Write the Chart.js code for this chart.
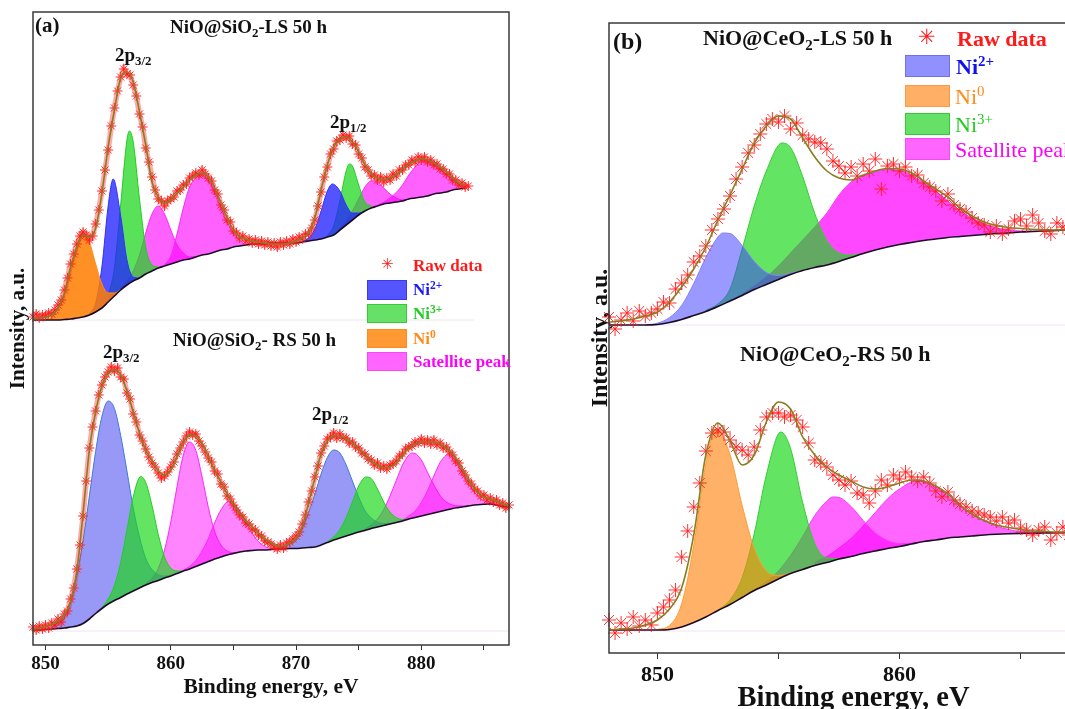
<!DOCTYPE html>
<html>
<head>
<meta charset="utf-8">
<script src="https://cdn.jsdelivr.net/npm/chart.js@4.4.1/dist/chart.umd.min.js"></script>
<style>
html, body { margin: 0; padding: 0; background: #fff; overflow: hidden; }
body { width: 1065px; height: 709px; position: relative; font-family: "Liberation Serif", serif; }
canvas { position: absolute; }
#graficoA { left: 0; top: 0; }
#graficoB { left: 580px; top: 0; }
.txt { position: absolute; white-space: nowrap; font-weight: bold; color: #111; line-height: 1; }
.txt sub { font-size: 0.68em; vertical-align: -0.32em; line-height: 0; }
.txt sup { font-size: 0.68em; vertical-align: 0.55em; line-height: 0; }
.normal { font-weight: normal; }
.amostra { position: absolute; box-sizing: border-box; border: 1px solid; }
.estrela { position: absolute; color: #ff1a1a; font-family: "DejaVu Sans", sans-serif; line-height: 1; }
</style>
</head>
<body>
<canvas id="graficoA" width="530" height="709"></canvas>
<canvas id="graficoB" width="580" height="740"></canvas>

<!-- textos do painel (a) -->
<div class="txt" style="left:35px;top:15px;font-size:21px;">(a)</div>
<div class="txt" style="left:170px;top:17px;font-size:19px;">NiO@SiO<sub>2</sub>-LS 50 h</div>
<div class="txt" style="left:115px;top:45px;font-size:19px;">2p<sub>3/2</sub></div>
<div class="txt" style="left:330px;top:112px;font-size:19px;">2p<sub>1/2</sub></div>
<div class="txt" style="left:173px;top:330px;font-size:19px;">NiO@SiO<sub>2</sub>- RS 50 h</div>
<div class="txt" style="left:103px;top:342px;font-size:19px;">2p<sub>3/2</sub></div>
<div class="txt" style="left:312px;top:404px;font-size:19px;">2p<sub>1/2</sub></div>

<!-- legenda do painel (a) -->
<div class="estrela" style="left:381px;top:257px;font-size:15px;">✳</div>
<div class="txt" style="left:413px;top:257px;font-size:17px;color:#ff1a1a;">Raw data</div>
<div class="amostra" style="left:367px;top:280px;width:40px;height:20px;background:#5555ff;border-color:#3a3aee;"></div>
<div class="txt" style="left:413px;top:281px;font-size:17px;color:#1a1aff;">Ni<sup>2+</sup></div>
<div class="amostra" style="left:367px;top:304px;width:40px;height:19px;background:#66e066;border-color:#33cc33;"></div>
<div class="txt" style="left:413px;top:305px;font-size:17px;color:#22cc22;">Ni<sup>3+</sup></div>
<div class="amostra" style="left:367px;top:329px;width:40px;height:19px;background:#ff9933;border-color:#ff8c1a;"></div>
<div class="txt" style="left:413px;top:330px;font-size:17px;color:#ff8c1a;">Ni<sup>0</sup></div>
<div class="amostra" style="left:367px;top:352px;width:40px;height:19px;background:#ff66ff;border-color:#ff44ff;"></div>
<div class="txt" style="left:413px;top:353px;font-size:17px;color:#ff00ff;">Satellite peak</div>

<!-- textos do painel (b) -->
<div class="txt" style="left:613px;top:29px;font-size:24px;">(b)</div>
<div class="txt" style="left:703px;top:27px;font-size:22px;">NiO@CeO<sub>2</sub>-LS 50 h</div>
<div class="txt" style="left:740px;top:343px;font-size:22px;">NiO@CeO<sub>2</sub>-RS 50 h</div>

<!-- legenda do painel (b) -->
<div class="estrela" style="left:918px;top:27px;font-size:21px;">✳</div>
<div class="txt" style="left:957px;top:28px;font-size:22px;color:#ff1a1a;">Raw data</div>
<div class="amostra" style="left:905px;top:55px;width:45px;height:22px;background:#9090ff;border-color:#7070f0;"></div>
<div class="txt" style="left:956px;top:56px;font-size:22px;color:#1010ee;">Ni<sup>2+</sup></div>
<div class="amostra" style="left:905px;top:85px;width:45px;height:22px;background:#ffb066;border-color:#ff9a40;"></div>
<div class="txt normal" style="left:955px;top:86px;font-size:22px;color:#ff8c1a;">Ni<sup>0</sup></div>
<div class="amostra" style="left:905px;top:113px;width:45px;height:22px;background:#66e066;border-color:#33cc33;"></div>
<div class="txt normal" style="left:955px;top:114px;font-size:22px;color:#22cc22;">Ni<sup>3+</sup></div>
<div class="amostra" style="left:905px;top:138px;width:45px;height:22px;background:#ff66ff;border-color:#ff44ff;"></div>
<div class="txt normal" style="left:955px;top:139px;font-size:22px;color:#ff00ff;">Satellite peak</div>

<script>
// =========================================================
// 1. DADOS
// =========================================================
// Energia de ligação em eV, intensidade em unidades arbitrárias.
// Cada espectro guarda valores relativos à sua própria linha de base;
// o deslocamento vertical (empilhamento) fica numa constante separada.
const passoBruto = 0.25; // espaçamento dos pontos experimentais (asteriscos)
const passoCurva = 0.5;  // espaçamento da curva ajustada e do fundo

// ---------- Painel (a): NiO@SiO2 ----------
const inicioA = 849;
const deslocLS_A = 32.5;
const deslocRS_A = 1.4;

// LS 50 h, pontos experimentais (uma linha por eV, de 849 a 883.75)
const brutoLS_A = [
  0.3, 0.6, 0.2, 0.5,   0.4, 0.7, 0.6, 1.0,   1.5, 2.0, 3.0, 4.2,
  5.6, 6.6, 7.6, 8.4,   8.8, 8.5, 8.0, 8.4,   9.6, 11.0, 12.9, 15.0,
  17.0, 19.4, 21.2, 22.9,   24.3, 25.1, 24.6, 24.5,   23.5, 22.4, 20.6, 19.3,
  17.2, 15.8, 14.3, 13.0,   12.1, 11.9, 11.4, 11.9,   12.1, 12.3, 12.9, 13.0,
  13.5, 13.6, 14.2, 14.4,   14.7, 14.5, 15.0, 14.6,   14.2, 13.9, 13.0, 12.6,
  11.5, 11.0, 10.0, 9.8,   8.9, 8.7, 8.2, 8.4,   7.9, 8.1, 7.7, 8.0,
  7.6, 7.9, 7.5, 7.8,   7.4, 7.7, 7.3, 7.8,   7.5, 7.9, 7.6, 8.1,
  7.8, 8.3, 8.1, 8.6,   8.6, 9.2, 10.0, 11.4,   12.8, 14.3, 15.3, 16.6,
  17.1, 17.9, 18.0, 18.5,   18.2, 18.4, 17.6, 17.5,   16.6, 16.2, 15.3, 15.0,
  14.4, 14.5, 14.0, 14.3,   13.8, 14.2, 14.0, 14.6,   14.4, 15.0, 15.0, 15.5,
  15.5, 16.0, 15.8, 16.3,   16.0, 16.3, 15.8, 16.0,   15.5, 15.6, 15.1, 15.1,
  14.6, 14.6, 14.0, 14.0,   13.5, 13.7, 13.3, 13.4
];
// LS 50 h, envoltória do ajuste (849 a 883.5, passo 0.5)
const ajusteLS_A = [
  0.1, 0.2,  0.3, 0.5,  1.2, 2.7,  5.3, 7.3,  8.5, 8.3,  9.2, 12.7,
  17.3, 21.0,  24.2, 24.8,  23.8, 20.8,  17.5, 13.8,  12.3, 11.7,  12.0, 12.7,
  13.3, 14.0,  14.5, 14.7,  14.3, 13.2,  11.7, 10.2,  9.0, 8.3,  8.1, 7.9,
  7.8, 7.7,  7.6, 7.6,  7.6, 7.7,  7.9, 8.2,  8.7, 10.2,  13.0, 15.5,
  17.3, 18.1,  18.3, 17.8,  16.8, 15.5,  14.6, 14.2,  14.0, 14.2,  14.5, 15.1,
  15.6, 15.9,  16.1, 16.0,  15.7, 15.3,  14.8, 14.2,  13.7, 13.5
];
// LS 50 h, fundo (Shirley)
const fundoLS_A = [
  0, 0,  0, 0,  0, 0.05,  0.1, 0.2,  0.3, 0.5,  0.8, 1.2,
  1.8, 2.4,  3.0, 3.5,  3.9, 4.2,  4.6, 4.9,  5.2, 5.4,  5.6, 5.8,
  6.0, 6.1,  6.3, 6.5,  6.6, 6.8,  7.0, 7.1,  7.3, 7.4,  7.5, 7.6,
  7.6, 7.6,  7.7, 7.7,  7.7, 7.7,  7.7, 7.8,  7.9, 8.0,  8.1, 8.3,
  8.5, 9.0,  9.5, 10.0,  10.5, 10.9,  11.2, 11.4,  11.6, 11.7,  11.8, 11.9,
  12.1, 12.2,  12.3, 12.4,  12.6, 12.7,  12.8, 13.0,  13.1, 13.2
];
// LS 50 h, componentes [energia, topo da área]
const ni0LS_A = [[850, 0.05], [850.5, 0.3], [851, 0.9], [851.5, 2.45], [852, 4.9], [852.5, 7.5], [853, 8.7], [853.5, 7.8], [854, 5.6], [854.5, 3.6], [855, 2.7], [855.5, 2.7], [856, 3.05]];
const ni2LS1_A = [[853.5, 0.6], [854, 1.7], [854.5, 5.3], [855, 11.4], [855.4, 14.1], [856, 10.4], [856.5, 6.0], [857, 4.3], [857.5, 4.2]];
const ni3LS1_A = [[855, 2.3], [855.5, 5.2], [856, 11.5], [856.5, 18.0], [856.7, 18.9], [857, 17.8], [857.5, 12.1], [858, 7.3], [858.5, 5.5], [859, 5.3]];
const sat1LS_A = [[856, 3.1], [856.5, 3.85], [857, 4.9], [857.5, 6.5], [858, 8.7], [858.5, 10.6], [859, 11.4], [859.5, 10.6], [860, 9.0], [860.5, 7.5], [861, 6.7], [861.5, 6.3], [862, 6.35]];
const sat2LS_A = [[859.5, 5.5], [860, 6.4], [860.5, 8.6], [861, 11.2], [861.5, 13.3], [862, 14.2], [862.4, 14.5], [863, 14.0], [863.5, 12.9], [864, 11.3], [864.5, 9.8], [865, 8.7], [865.5, 8.0], [866, 7.6], [866.5, 7.6]];
const ni2LS2_A = [[870.5, 7.86], [871, 8.2], [871.5, 9.1], [872, 10.9], [872.5, 12.9], [872.9, 13.6], [873.5, 12.9], [874, 11.5], [874.5, 10.7], [875, 10.7], [875.5, 10.9]];
const ni3LS2_A = [[872.5, 8.45], [873, 9.4], [873.5, 11.9], [874, 14.9], [874.26, 15.6], [874.5, 15.4], [875, 13.5], [875.5, 11.8], [876, 11.4]];
const sat3LS_A = [[873.5, 9.1], [874, 9.9], [874.5, 10.9], [875, 12.1], [875.5, 13.3], [876, 13.9], [876.5, 13.8], [877, 13.2], [877.5, 12.6], [878, 12.2], [878.5, 12.0], [879, 12.1]];
const sat4LS_A = [[876.5, 11.5], [877, 11.8], [877.5, 12.2], [878, 12.75], [878.5, 13.5], [879, 14.5], [879.5, 15.3], [880, 15.9], [880.3, 16.0], [881, 15.8], [881.5, 15.2], [882, 14.55], [882.5, 14.1], [883, 13.7], [883.5, 13.5], [883.75, 13.5]];

// RS 50 h, pontos experimentais (849 a 887)
const brutoRS_A = [
  0.4, 0.1, 0.5, 0.2,   0.6, 0.3, 0.8, 0.6,   1.2, 0.9, 1.7, 2.0,
  3.2, 4.3, 6.2, 8.6,   11.5, 15.0, 18.3, 20.4,   22.0, 23.6, 24.6, 25.4,
  25.9, 26.4, 26.0, 26.3,   25.4, 25.2, 23.8, 23.2,   21.7, 20.9, 19.6, 19.0,
  18.2, 17.4, 16.8, 16.4,   15.8, 15.3, 15.5, 15.9,   16.4, 16.9, 17.7, 18.3,
  18.9, 19.5, 19.9, 19.6,   19.7, 19.0, 18.5, 17.9,   17.3, 16.9, 16.0, 15.7,
  14.7, 14.4, 13.5, 13.2,   12.6, 12.1, 11.6, 11.4,   10.8, 10.7, 10.2, 10.1,
  9.6, 9.5, 9.0, 8.9,   8.7, 8.4, 8.2, 8.6,   8.3, 8.8, 8.9, 9.2,
  9.5, 9.9, 10.7, 11.6,   12.9, 14.0, 15.4, 16.5,   17.8, 18.5, 19.2, 19.4,
  19.8, 19.3, 19.7, 19.3,   19.3, 18.8, 18.9, 18.4,   18.3, 17.8, 17.7, 17.2,
  17.1, 16.6, 16.8, 16.3,   16.5, 16.2, 16.6, 16.7,   17.0, 17.5, 17.7, 18.2,
  18.4, 18.5, 18.9, 18.8,   19.2, 18.8, 19.1, 18.7,   19.1, 18.6, 18.8, 18.3,
  18.4, 17.9, 17.6, 17.0,   16.8, 16.0, 15.6, 15.0,   14.7, 14.2, 14.0, 13.5,
  13.6, 13.1, 13.3, 12.9,   13.1, 12.6, 12.8, 12.3,   12.6
];
const ajusteRS_A = [
  0.2, 0.3,  0.45, 0.7,  1.0, 1.6,  3.0, 6.0,  11.8, 18.1,  21.9, 24.5,
  25.8, 26.1,  25.6, 24.0,  21.9, 19.8,  18.1, 17.0,  16.0, 15.6,  16.1, 17.5,
  18.9, 19.6,  19.5, 18.7,  17.4, 16.1,  14.9, 13.7,  12.7, 11.8,  11.0, 10.4,
  9.8, 9.2,  8.8, 8.5,  8.5, 8.8,  9.3, 10.5,  12.8, 15.3,  17.7, 19.0,
  19.5, 19.5,  19.2, 18.8,  18.2, 17.6,  17.0, 16.6,  16.3, 16.4,  16.8, 17.6,
  18.3, 18.7,  18.9, 18.9,  18.9, 18.7,  18.3, 17.7,  16.8, 15.7,  14.7, 13.9,
  13.4, 13.2,  13.0, 12.7,  12.5
];
const fundoRS_A = [
  0.1, 0.1,  0.15, 0.2,  0.25, 0.3,  0.4, 0.5,  0.75, 1.2,  1.75, 2.25,
  2.7, 3.05,  3.35, 3.7,  4.0, 4.3,  4.6, 4.85,  5.05, 5.3,  5.5, 5.75,
  6.0, 6.2,  6.45, 6.7,  6.95, 7.2,  7.4, 7.6,  7.75, 7.9,  8.0, 8.05,
  8.1, 8.1,  8.15, 8.2,  8.2, 8.25,  8.25, 8.3,  8.35, 8.4,  8.6, 8.85,
  9.1, 9.3,  9.5, 9.7,  9.9, 10.05,  10.25, 10.4,  10.55, 10.7,  10.85, 11.0,
  11.2, 11.35,  11.5, 11.65,  11.8, 11.95,  12.1, 12.25,  12.35, 12.45,  12.55, 12.62,
  12.67, 12.7,  12.6, 12.45,  12.4
];
const ni2RS1_A = [[850.5, 0.4], [851, 0.85], [851.5, 1.4], [852, 2.8], [852.5, 5.6], [853, 9.05], [853.5, 13.5], [854, 17.95], [854.5, 21.45], [855, 23.0], [855.5, 22.25], [856, 19.55], [856.5, 16.0], [857, 12.3], [857.5, 9.4], [858, 7.25], [858.5, 6.15], [859, 5.65], [859.5, 5.5], [860, 5.6]];
const ni3RS1_A = [[854.5, 2.35], [855, 3.2], [855.5, 4.55], [856, 6.85], [856.5, 10.1], [857, 13.4], [857.6, 15.45], [858, 14.85], [858.5, 12.55], [859, 9.65], [859.5, 7.4], [860, 6.3], [860.5, 6.0], [861, 6.0]];
const sat1RS_A = [[858, 4.7], [858.5, 5.25], [859, 6.25], [859.5, 8.1], [860, 10.9], [860.5, 14.45], [861, 17.6], [861.5, 18.9], [862, 18.05], [862.5, 15.4], [863, 12.35], [863.5, 9.95], [864, 8.6], [864.5, 8.0], [865, 7.85], [865.5, 7.9]];
const sat2RS_A = [[861, 6.1], [861.5, 6.45], [862, 7.05], [862.5, 8.0], [863, 9.25], [863.5, 10.8], [864, 12.1], [864.6, 12.95], [865, 12.75], [865.5, 12.0], [866, 10.8], [866.5, 9.75], [867, 8.95], [867.5, 8.45], [868, 8.25], [868.5, 8.2]];
const ni2RS2_A = [[868.5, 8.27], [869, 8.4], [869.5, 8.75], [870, 9.3], [870.5, 10.3], [871, 11.85], [871.5, 13.7], [872, 15.7], [872.5, 17.35], [873, 18.1], [873.5, 17.8], [874, 16.6], [874.5, 15.0], [875, 13.4], [875.5, 12.05], [876, 11.3], [876.5, 10.9], [877, 10.75], [877.5, 10.77]];
const ni3RS2_A = [[872.5, 8.95], [873, 9.4], [873.5, 10.15], [874, 11.35], [874.5, 12.9], [875, 14.5], [875.6, 15.4], [876, 15.25], [876.5, 14.2], [877, 12.9], [877.5, 11.9], [878, 11.35], [878.5, 11.15], [879, 11.2]];
const sat3RS_A = [[875, 9.95], [875.5, 10.2], [876, 10.6], [876.5, 11.2], [877, 12.15], [877.5, 13.5], [878, 15.05], [878.5, 16.6], [879, 17.6], [879.25, 17.8], [879.5, 17.75], [880, 17.1], [880.5, 15.85], [881, 14.6], [881.5, 13.55], [882, 12.9], [882.5, 12.6], [883, 12.5], [883.5, 12.5]];
const sat4RS_A = [[878, 10.9], [878.5, 11.1], [879, 11.5], [879.5, 12.0], [880, 12.85], [880.5, 14.05], [881, 15.5], [881.5, 16.85], [882, 17.6], [882.2, 17.75], [882.5, 17.5], [883, 16.6], [883.5, 15.4], [884, 14.3], [884.5, 13.5], [885, 13.0], [885.5, 12.85], [886, 12.65], [886.5, 12.45]];

// ---------- Painel (b): NiO@CeO2 ----------
const inicioB = 848;
const deslocLS_B = 32.8;
const deslocRS_B = 2.2;

// LS 50 h (848 a 868)
const brutoLS_B = [
  0.8, -0.4, 0.5, 1.2,   0.4, 1.4, 0.9, 1.2,   1.6, 2.3, 2.2, 3.6,
  4.2, 5.0, 6.3, 6.9,   7.9, 9.5, 10.6, 11.6,   12.9, 14.6, 15.8, 17.2,
  18.0, 19.1, 20.1, 20.6,   20.3, 20.9, 19.6, 20.2,   19.0, 18.6, 18.3, 18.2,
  17.6, 16.4, 15.9, 15.2,   15.8, 14.9, 16.1, 15.4,   16.6, 13.6, 15.9, 16.1,
  15.4, 15.8, 14.9, 15.0,   14.2, 13.8, 13.4, 12.4,   13.1, 12.0, 11.6, 11.3,
  10.7, 10.2, 10.0, 9.3,   9.9, 9.1, 9.6, 10.4,   10.6, 9.9, 11.0, 10.2,
  9.4, 9.1, 10.2, 9.8,   9.5, 9.3, 9.9, 9.6,   9.7
];
const ajusteLS_B = [
  0.3, 0.4,  0.6, 0.9,  1.3, 2.3,  3.8, 5.6,  7.8, 10.5,  13.0, 15.6,
  18.2, 19.9,  20.9, 20.6,  18.7, 16.8,  15.4, 14.7,  14.5, 15.0,  15.4, 15.65,
  15.6, 15.2,  14.4, 13.6,  12.8, 11.7,  10.9, 10.3,  9.95, 9.75,  9.65, 9.57,
  9.53, 9.5,  9.5, 9.52,  9.55
];
const fundoLS_B = [
  0, 0,  0, 0,  0.05, 0.25,  0.55, 0.95,  1.35, 1.85,  2.4, 2.95,
  3.55, 4.05,  4.55, 5.05,  5.45, 5.75,  6.0, 6.35,  6.75, 7.15,  7.5, 7.8,
  8.05, 8.25,  8.45, 8.6,  8.75, 8.85,  8.95, 9.05,  9.15, 9.2,  9.3, 9.35,
  9.4, 9.45,  9.5, 9.52,  9.55
];
const ni2LS_B = [[849.5, 0], [850, 0.18], [850.5, 0.75], [851, 1.95], [851.5, 4.15], [852, 6.75], [852.5, 8.8], [852.7, 9.2], [853, 9.15], [853.5, 7.95], [854, 6.35], [854.5, 5.25], [855, 4.95], [855.5, 5.15], [856, 5.45]];
const ni3LS_B = [[852, 1.45], [852.5, 2.1], [853, 3.6], [853.5, 7.6], [854, 11.9], [854.5, 15.4], [855.15, 18.2], [855.5, 17.75], [856, 14.85], [856.5, 11.15], [857, 8.45], [857.5, 7.2], [858, 7.0], [858.5, 7.15]];
const satLS_B = [[853, 2.45], [853.5, 3.1], [854, 3.9], [854.5, 4.8], [855, 5.9], [855.5, 7.2], [856, 8.5], [856.5, 9.8], [857, 11.2], [857.5, 13.0], [858, 14.3], [858.5, 14.9], [859, 15.3], [859.5, 15.55], [860, 15.45], [860.5, 15.0], [861, 14.2], [861.5, 13.4], [862, 12.4], [862.5, 11.4], [863, 10.7], [863.5, 10.1], [864, 9.7], [864.5, 9.5], [865, 9.4], [865.5, 9.38], [866, 9.42], [866.5, 9.46], [867, 9.5], [868, 9.55]];

// RS 50 h (848 a 868)
const brutoRS_B = [
  1.1, -0.2, 0.8, 0.2,   1.4, 0.5, 1.1, 0.6,   1.8, 2.4, 3.1, 4.1,
  7.4, 10.0, 12.4, 14.8,   18.0, 19.8, 20.1, 19.9,   19.1, 18.4, 18.1, 17.6,
  18.4, 20.1, 21.4, 21.8,   21.8, 21.4, 21.6, 21.1,   20.4, 18.8, 17.1, 16.8,
  16.4, 15.6, 15.1, 14.6,   15.0, 13.8, 13.6, 12.8,   14.0, 15.1, 14.6, 15.6,
  15.2, 15.9, 15.4, 15.0,   15.4, 14.8, 14.0, 13.4,   13.9, 13.1, 12.7, 12.4,
  12.0, 11.8, 11.6, 11.4,   11.0, 11.4, 10.8, 11.1,   10.3, 10.1, 9.6, 10.1,
  10.4, 9.1, 9.8, 10.4,   9.6, 10.1, 9.5, 9.9,   9.8
];
const ajusteRS_B = [
  0.1, 0.2,  0.3, 0.6,  1.1, 2.2,  4.3, 9.6,  17.6, 20.8,  19.0, 16.6,
  17.6, 20.9,  22.9, 22.2,  19.4, 17.6,  16.4, 15.6,  15.0, 14.4,  14.2, 14.4,
  14.8, 15.1,  15.0, 14.5,  13.7, 12.6,  11.7, 11.05,  10.6, 10.35,  10.15, 10.0,
  9.95, 9.9,  9.9, 9.9,  9.9
];
const fundoRS_B = [
  0.1, 0.1,  0.1, 0.1,  0.1, 0.15,  0.4, 0.85,  1.4, 2.05,  2.65, 3.35,
  4.05, 4.6,  5.2, 5.75,  6.15, 6.55,  6.85, 7.2,  7.45, 7.75,  8.0, 8.25,
  8.45, 8.7,  8.95, 9.1,  9.3, 9.4,  9.5, 9.6,  9.67, 9.72,  9.76, 9.78,
  9.8, 9.82,  9.84, 9.85,  9.85
];
const ni0RS_B = [[850, 0.15], [850.5, 0.55], [851, 2.7], [851.5, 8.55], [852, 16.7], [852.42, 20.25], [853, 17.65], [853.5, 12.55], [854, 8.25], [854.5, 6.0], [855, 5.55], [855.5, 5.8], [856, 6.15]];
const ni3RS_B = [[852.5, 2.1], [853, 3.1], [853.5, 5.35], [854, 9.75], [854.5, 15.6], [855.1, 19.9], [855.5, 18.25], [856, 12.85], [856.5, 8.75], [857, 7.3], [857.5, 7.25]];
const sat1RS_B = [[853.5, 3.37], [854, 4.13], [854.5, 4.9], [855, 6.0], [855.5, 7.55], [856, 9.45], [856.5, 11.55], [857, 13.0], [857.25, 13.4], [857.5, 13.35], [858, 12.45], [858.5, 11.05], [859, 9.8], [859.5, 9.05], [860, 8.75], [860.5, 8.8], [861, 8.95]];
const sat2RS_B = [[856.5, 6.85], [857, 7.45], [857.5, 8.3], [858, 9.25], [858.5, 10.5], [859, 11.85], [859.5, 13.2], [860, 14.2], [860.7, 15.0], [861, 14.95], [861.5, 14.4], [862, 13.5], [862.5, 12.5], [863, 11.7], [863.5, 11.0], [864, 10.5], [864.5, 10.15], [865, 9.95], [865.5, 9.9], [866, 9.85], [866.5, 9.82]];


// =========================================================
// 2. CORES
// =========================================================
const corBruto = '#ff1a1a';
const corAjuste = '#8a7d1f';
const corFundo = '#1d0b26';
const corBase = '#f2e2f2';


// =========================================================
// 3. FUNÇÕES AUXILIARES
// =========================================================
// Transforma uma lista de valores igualmente espaçados em pontos {x, y}
function pontos(inicio, passo, valores, desloc) {
    return valores.map((v, i) => ({ x: inicio + i * passo, y: v + desloc }));
}

// Transforma pares [energia, intensidade] em pontos {x, y}
function pares(lista, desloc) {
    return lista.map(p => ({ x: p[0], y: p[1] + desloc }));
}

// Monta os datasets de um espectro: linha de base, fundo, componentes, ajuste e dados.
// 'faixa' > 0 desenha uma faixa vermelha translúcida por baixo dos asteriscos
// (no painel (a) os pontos são tão densos que formam uma faixa contínua).
function espectro(datasets, inicio, desloc, fimBase, bruto, ajuste, fundo, componentes, raio, faixa) {
    datasets.push({
        data: [{ x: inicio, y: desloc }, { x: fimBase, y: desloc }],
        borderColor: corBase, borderWidth: 1, pointRadius: 0, order: 90
    });

    const idxFundo = datasets.length;
    datasets.push({
        data: pontos(inicio, passoCurva, fundo, desloc),
        borderColor: corFundo, borderWidth: 1.6, pointRadius: 0,
        cubicInterpolationMode: 'monotone', order: 3
    });

    // componentes: o primeiro da lista fica mais ao fundo
    componentes.forEach((c, i) => {
        datasets.push({
            data: pares(c[0], desloc),
            fill: idxFundo,
            backgroundColor: c[1],
            borderColor: c[2],
            borderWidth: 1, pointRadius: 0,
            cubicInterpolationMode: 'monotone',
            order: 60 - i
        });
    });

    // envoltória por cima dos asteriscos, como no original
    datasets.push({
        data: pontos(inicio, passoCurva, ajuste, desloc),
        borderColor: corAjuste, borderWidth: 1.6, pointRadius: 0,
        cubicInterpolationMode: 'monotone', order: 0
    });

    datasets.push({
        data: pontos(inicio, passoBruto, bruto, desloc),
        showLine: faixa > 0,
        borderColor: 'rgba(255,40,40,0.4)', borderWidth: faixa,
        pointStyle: 'star', pointRadius: raio,
        pointBorderColor: corBruto, pointBackgroundColor: corBruto,
        pointBorderWidth: 0.9, clip: 8, order: 1
    });
}

// Moldura fechada em volta da área do gráfico
const moldura = {
    id: 'moldura',
    afterDatasetsDraw(chart) {
        const { ctx, chartArea: a } = chart;
        ctx.save();
        ctx.strokeStyle = '#3a3a3a';
        ctx.lineWidth = 1.5;
        ctx.strokeRect(a.left, a.top, a.right - a.left, a.bottom - a.top);
        ctx.restore();
    }
};

function opcoes(xMin, xMax, yMax, padding, larguraY, alturaX, fonteTick, fonteTitulo, fonteY, tamTick) {
    return {
        responsive: false,
        animation: false,
        devicePixelRatio: 1,
        events: [],
        layout: { padding: padding },
        plugins: { legend: { display: false }, tooltip: { enabled: false } },
        scales: {
            x: {
                type: 'linear', min: xMin, max: xMax,
                ticks: {
                    stepSize: 5, includeBounds: false, autoSkip: false, maxRotation: 0,
                    color: '#111', padding: 3,
                    font: { family: 'Liberation Serif', size: fonteTick, weight: 'bold' },
                    callback: v => (v % 10 === 0 ? v : '')
                },
                grid: { drawOnChartArea: false, drawTicks: true, tickLength: tamTick, color: '#333' },
                border: { display: false },
                title: {
                    display: true, text: 'Binding energy, eV', color: '#111',
                    font: { family: 'Liberation Serif', size: fonteTitulo, weight: 'bold' },
                    padding: { top: 2, bottom: 4 }
                },
                afterFit(s) { s.height = alturaX; }
            },
            y: {
                min: 0, max: yMax,
                ticks: { display: false },
                grid: { display: false },
                border: { display: false },
                title: {
                    display: true, text: 'Intensity, a.u.', color: '#111',
                    font: { family: 'Liberation Serif', size: fonteY, weight: 'bold' },
                    padding: { top: 6, bottom: 0 }
                },
                afterFit(s) { s.width = larguraY; }
            }
        }
    };
}


// =========================================================
// 4. PAINEL (a)
// =========================================================
const azulA = 'rgba(35,35,255,0.78)', verdeA = 'rgba(25,215,25,0.72)';
const magentaA = 'rgba(255,0,255,0.62)', laranjaA = 'rgba(255,125,0,0.85)';
const azulRA = 'rgba(50,50,240,0.5)', verdeRA = 'rgba(25,215,25,0.68)', magentaRA = 'rgba(255,0,255,0.48)';

const datasetsA = [];
espectro(datasetsA, inicioA, deslocLS_A, 884.2, brutoLS_A, ajusteLS_A, fundoLS_A, [
    [sat1LS_A, magentaA, '#ff22ff'], [sat2LS_A, magentaA, '#ff22ff'],
    [sat3LS_A, magentaA, '#ff22ff'], [sat4LS_A, magentaA, '#ff22ff'],
    [ni3LS1_A, verdeA, '#22cc22'], [ni3LS2_A, verdeA, '#22cc22'],
    [ni2LS1_A, azulA, '#3030ff'], [ni2LS2_A, azulA, '#3030ff'],
    [ni0LS_A, laranjaA, '#ff8c1a']
], 5, 5.5);
espectro(datasetsA, inicioA, deslocRS_A, 887, brutoRS_A, ajusteRS_A, fundoRS_A, [
    [sat1RS_A, magentaRA, '#ff22ff'], [sat2RS_A, magentaRA, '#ff22ff'],
    [sat3RS_A, magentaRA, '#ff22ff'], [sat4RS_A, magentaRA, '#ff22ff'],
    [ni2RS1_A, azulRA, '#3d7ad6'], [ni2RS2_A, azulRA, '#3d7ad6'],
    [ni3RS1_A, verdeRA, '#22cc22'], [ni3RS2_A, verdeRA, '#22cc22']
], 5, 5.5);

new Chart(document.getElementById('graficoA'), {
    type: 'line',
    data: { datasets: datasetsA },
    options: opcoes(849, 887, 63.3, { top: 12, right: 21, bottom: 5, left: 0 }, 33, 59, 19, 21.5, 21, 5),
    plugins: [moldura]
});


// =========================================================
// 5. PAINEL (b)
// =========================================================
// O eixo original vai até ~868 eV; a imagem corta a borda direita em 1065 px.
const azulB = 'rgba(60,60,255,0.52)', verdeB = 'rgba(25,215,25,0.68)';
const magentaB = 'rgba(255,0,255,0.72)', magentaRB = 'rgba(255,0,255,0.6)';
const laranjaB = 'rgba(255,130,10,0.62)';

const datasetsB = [];
espectro(datasetsB, inicioB, deslocLS_B, 868, brutoLS_B, ajusteLS_B, fundoLS_B, [
    [satLS_B, magentaB, '#ff33ff'],
    [ni3LS_B, verdeB, '#33cc33'],
    [ni2LS_B, azulB, '#8080ff']
], 7, 0);
espectro(datasetsB, inicioB, deslocRS_B, 868, brutoRS_B, ajusteRS_B, fundoRS_B, [
    [sat2RS_B, magentaRB, '#ff33ff'], [sat1RS_B, magentaRB, '#ff33ff'],
    [ni3RS_B, verdeB, '#33cc33'],
    [ni0RS_B, laranjaB, '#ff9a33']
], 7, 0);

new Chart(document.getElementById('graficoB'), {
    type: 'line',
    data: { datasets: datasetsB },
    options: opcoes(848, 868.2, 63, { top: 23, right: 62, bottom: 20, left: 0 }, 29, 67, 22, 28.5, 24, 6),
    plugins: [moldura]
});
</script>
</body>
</html>
